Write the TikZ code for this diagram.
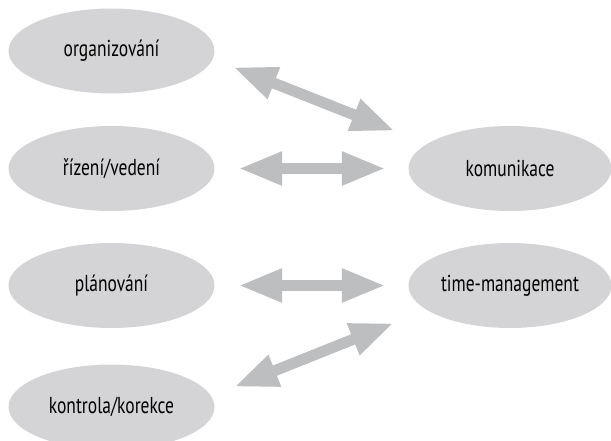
\documentclass[tikz,border=0pt]{standalone}
\usepackage{fontspec}
\setmainfont{PT Sans}[FakeStretch=0.76]
\usepackage{tikz}
\usetikzlibrary{shapes.geometric}
\usetikzlibrary{arrows.meta}
\definecolor{elfill}{RGB}{212,212,214}
\definecolor{arrgray}{RGB}{189,190,192}
\tikzset{bubble/.style={ellipse,fill=elfill,minimum width=206pt,minimum height=85pt,inner sep=0pt,font=\fontsize{23}{26}\selectfont}}
\tikzset{twoway/.style={arrgray,line width=11pt,{Triangle[length=44pt,width=31pt]}-{Triangle[length=44pt,width=31pt]}}}

\begin{document}
\begin{tikzpicture}[x=1pt,y=-1pt]
                    \useasboundingbox (0,0) rectangle (611,441);
                    \node[bubble] (org) at (111.5,51) {organizování};
                    \node[bubble] (riz) at (111.5,168.5) {řízení/vedení};
                    \node[bubble] (plan) at (111.5,285.5) {plánování};
                    \node[bubble] (kon) at (111.5,407) {kontrola/korekce};
                    \node[bubble, minimum width=203pt] (kom) at (510,168.5) {komunikace};
                    \node[bubble, minimum width=203pt] (time) at (510,285.5) {time-management};

                    \coordinate (a1) at (233,67);
                    \coordinate (b1) at (395,131);
                    \coordinate (a2) at (234,387);
                    \coordinate (b2) at (394,323);

                    \draw[twoway] (a1) -- (b1);
                    \draw[twoway, shorten <=23.5pt, shorten >=22.5pt] (riz) -- (kom);
                    \draw[twoway, shorten <=23.5pt, shorten >=22.5pt] (plan) -- (time);
                    \draw[twoway] (a2) -- (b2);
                \end{tikzpicture}
\end{document}
